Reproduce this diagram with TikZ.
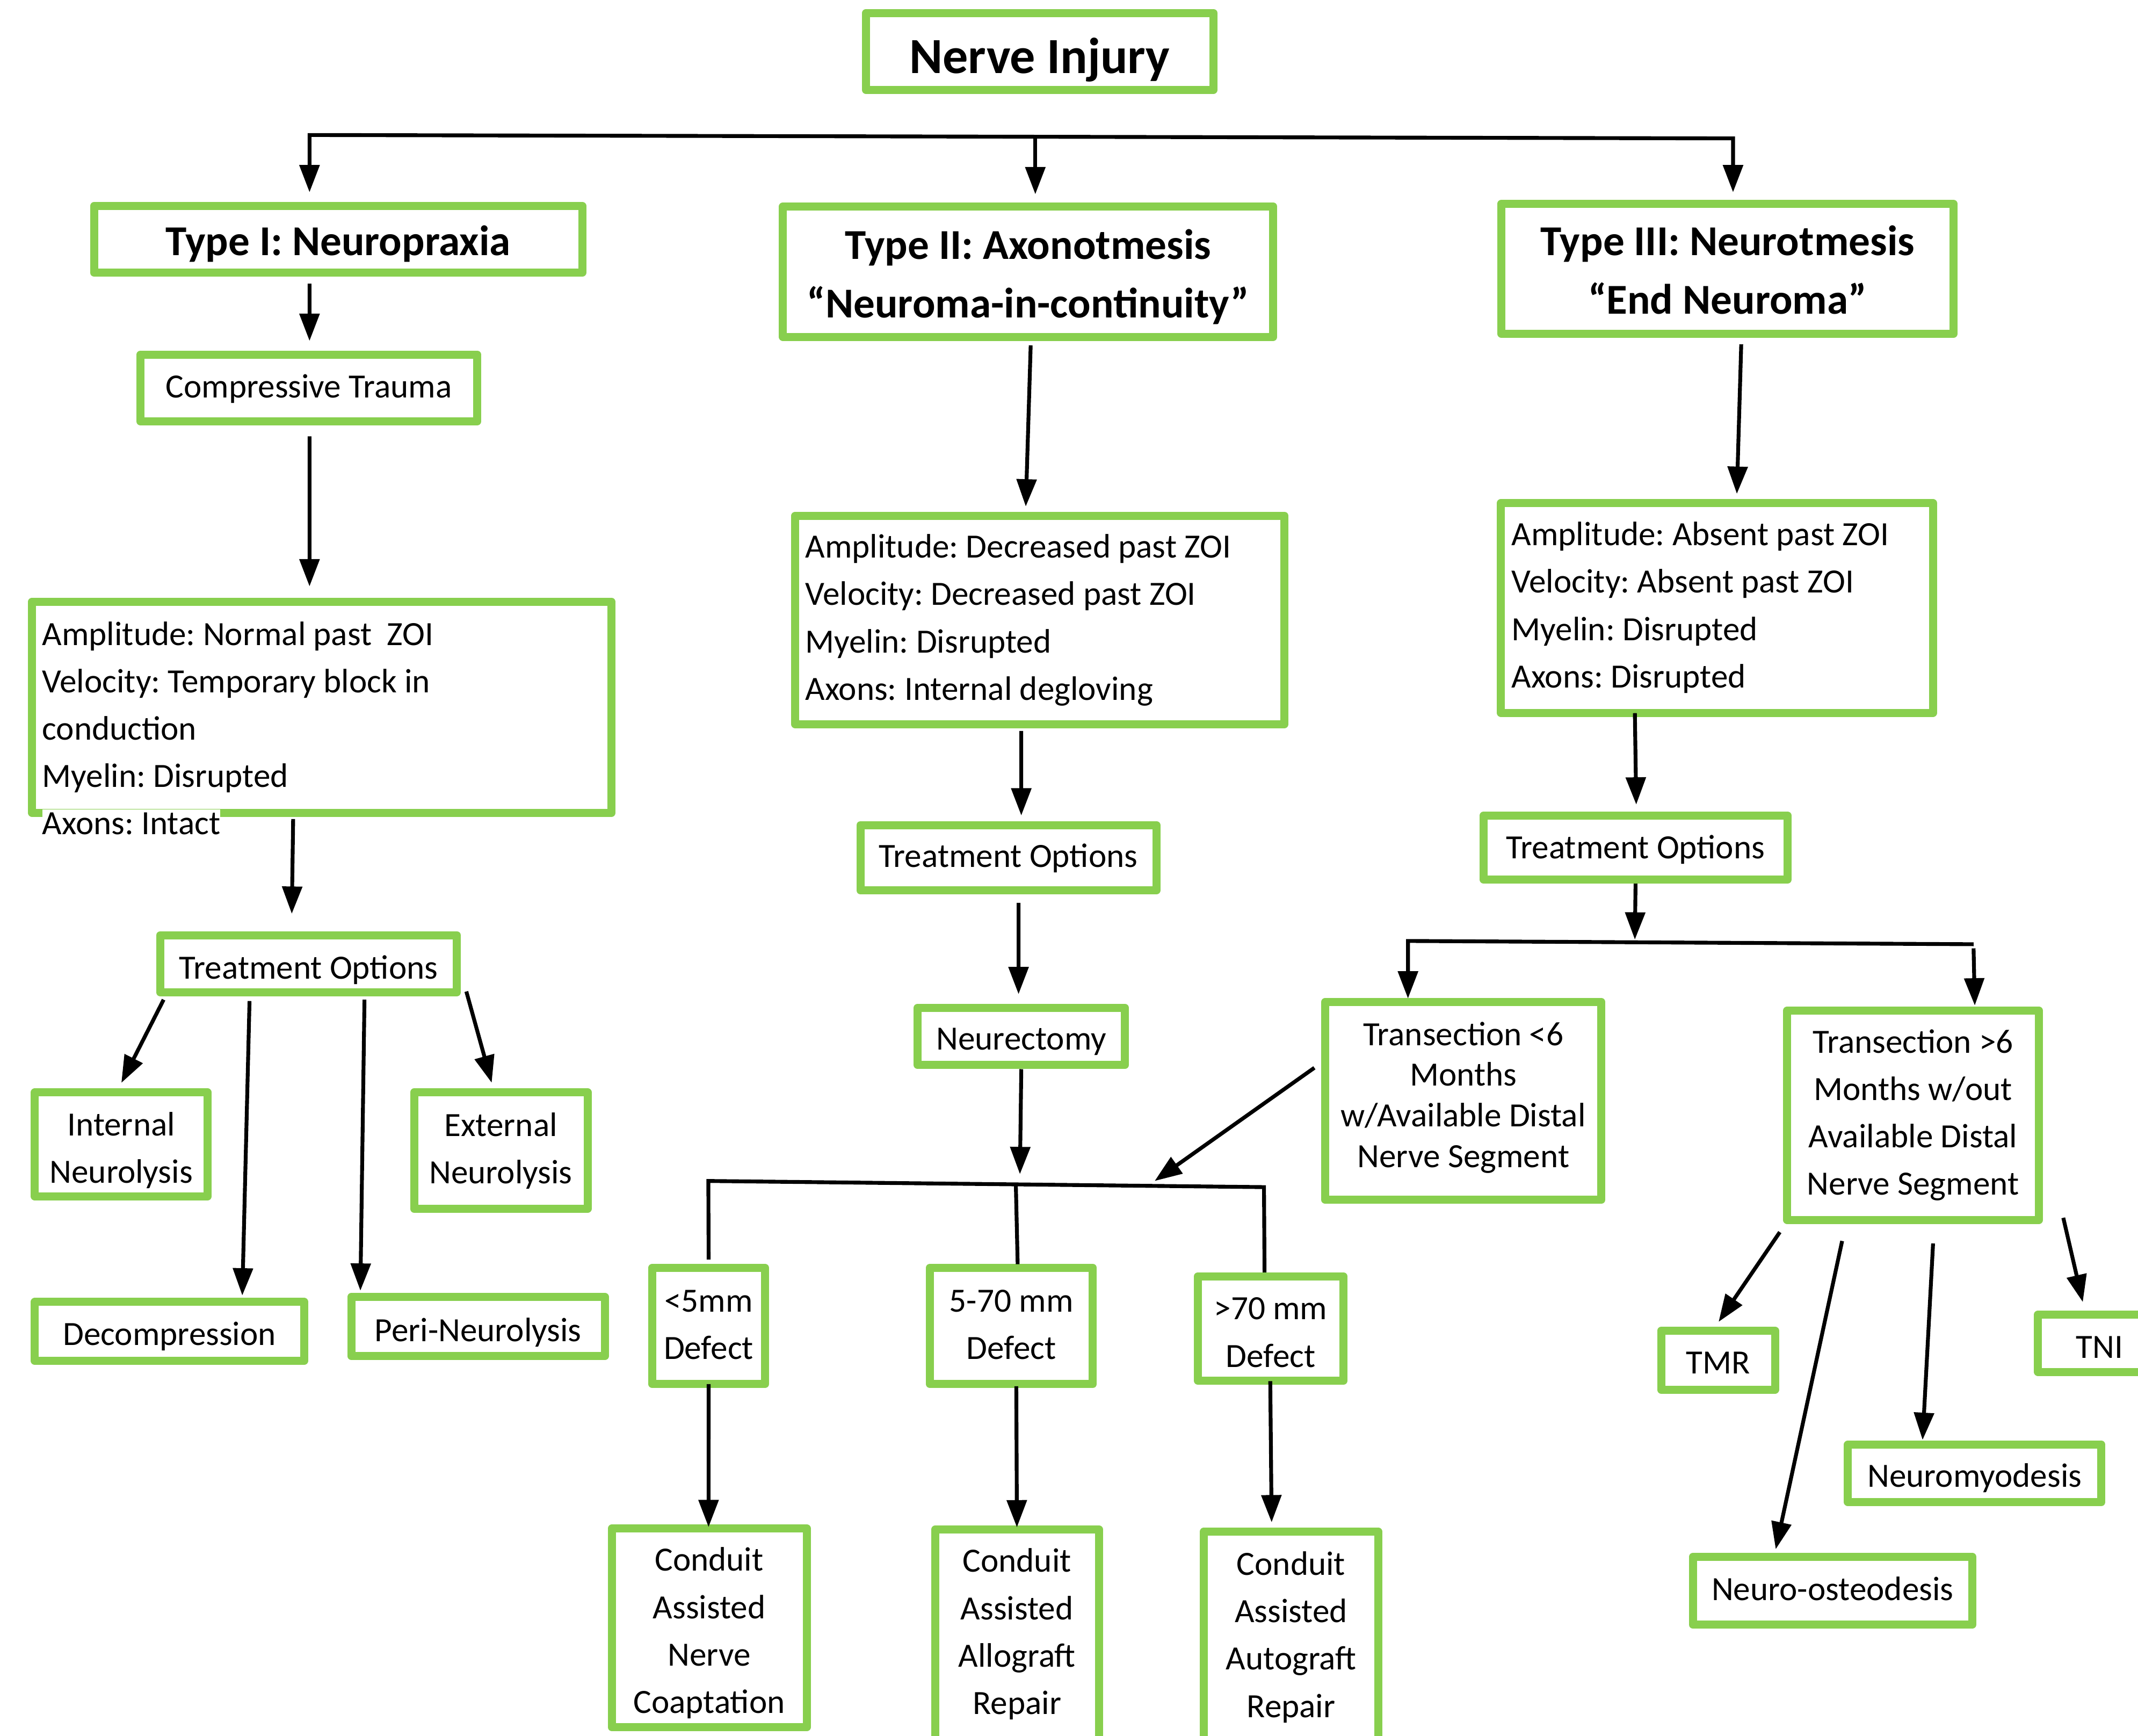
\documentclass[tikz,border=0pt]{standalone}
\usepackage{fontspec}
\setmainfont{Carlito}
\usetikzlibrary{arrows.meta,calc}
\definecolor{grn}{RGB}{136,207,78}
\frenchspacing
\newcommand{\ctab}[1]{\begin{tabular}{@{}c@{}}#1\end{tabular}}
\newcommand{\ltab}[1]{\begin{tabular}{@{}l@{}}#1\end{tabular}}
\newcommand{\dn}[2]{\raisebox{-#1}[\height][\depth]{#2}}
\tikzset{
  gbox/.style={draw=grn, line width=4.2pt, line join=round, fill=white, inner sep=0pt, outer sep=0pt,
    font={\fontsize{17.7}{24.7}\selectfont}},
  sz/.style 2 args={minimum width={#1*0.025cm}, minimum height={#2*0.025cm}},
  one/.style={text height=14.8pt, text depth=2pt},
  ttl/.style={font={\bfseries\fontsize{22.2}{30.6}\selectfont}},
  txt/.style={inner sep=0pt, outer sep=0pt, font={\fontsize{17.7}{24.7}\selectfont}},
  tip/.tip={Triangle[length=0.5cm,width=0.36cm]},
  arr/.style={line width=2pt, -tip},
  ln/.style={line width=2pt},
}
\begin{document}
\begin{tikzpicture}[x=0.025cm,y=-0.025cm]
\useasboundingbox (0,0) rectangle (1568,1273);
\clip (0,0) rectangle (1568,1273);
\fill[white] (0,0) rectangle (1568,1273);

% ---------- boxes ----------
\node[gbox, sz={254.9}{56.3}, font={\bfseries\fontsize{26.4}{32}\selectfont}, text height=21.6pt, text depth=0pt] (ni) at (762.5,37.7) {\dn{0.7pt}{Nerve Injury}};

\node[gbox, ttl, one, sz={358}{49}] (t1) at (248,175.5) {\dn{2.1pt}{Type I: Neuropraxia}};
\node[gbox, ttl, sz={359.5}{95.7}] (t2) at (754,199.2) {\dn{2.6pt}{\ctab{Type II: Axonotmesis\\“Neuroma-in-continuity”}}};
\node[gbox, ttl, sz={331.9}{95}] (t3) at (1266.9,197.1) {\dn{2.2pt}{\ctab{Type III: Neurotmesis\\“End Neuroma”}}};

\node[gbox, one, sz={247}{49}] (ct) at (226.5,284.5) {\dn{-1.4pt}{Compressive Trauma}};

\node[gbox, sz={425}{154.8}] (p1) at (236,518.6) {};
\node[gbox, sz={358.9}{152.8}] (p2) at (762.6,454.6) {};
\node[gbox, sz={316.7}{153.9}] (p3) at (1259.2,445.8) {};

\node[txt, anchor=west] (p1t) at (31,518.2) {\ltab{Amplitude: Normal past\ \ ZOI\\Velocity: Temporary block in\\conduction\\Myelin: Disrupted}};
\node[txt, anchor=base west, fill=white, text height=13.1pt, text depth=4pt] (p1a) at (31,611.8) {Axons: Intact};
\node[txt, anchor=west] (p2t) at (590.6,454.3) {\ltab{Amplitude: Decreased past ZOI\\Velocity: Decreased past ZOI\\Myelin: Disrupted\\Axons: Internal degloving}};
\node[txt, anchor=west] (p3t) at (1108.6,445.2) {\ltab{Amplitude: Absent past ZOI\\Velocity: Absent past ZOI\\Myelin: Disrupted\\Axons: Disrupted}};

\node[gbox, one, sz={217.6}{41.9}] (to1) at (226.3,706.7) {\dn{1.4pt}{Treatment Options}};
\node[gbox, one, sz={217}{48}] (to2) at (739.5,629) {\dn{-1.4pt}{Treatment Options}};
\node[gbox, one, sz={223}{47}] (to3) at (1199.5,621.5) {\dn{-0.6pt}{Treatment Options}};

\node[gbox, sz={126.6}{76.3}] (in) at (88.9,839.2) {\dn{2.8pt}{\ctab{Internal\\Neurolysis}}};
\node[gbox, sz={127.2}{85.4}] (ex) at (367.3,843.7) {\ctab{External\\Neurolysis}};
\node[gbox, one, sz={197.4}{43.3}] (de) at (124.3,976.3) {\dn{0.7pt}{Decompression}};
\node[gbox, one, sz={186}{43.3}] (pn) at (350.6,972.7) {\dn{1.4pt}{Peri-Neurolysis}};

\node[gbox, one, sz={152}{42}] (ne) at (749,760) {\dn{0.7pt}{Neurectomy}};

\node[gbox, sz={202.5}{145.2}, font={\fontsize{17.7}{21.2}\selectfont}] (tl) at (1073.2,807.3) {\dn{-1.4pt}{\ctab{Transection <6\\Months\\w/Available Distal\\Nerve Segment}}};
\node[gbox, sz={184.6}{153.6}] (tg) at (1403,817.8) {\dn{-0.4pt}{\ctab{Transection >6\\Months w/out\\Available Distal\\Nerve Segment}}};

\node[gbox, sz={82.6}{85.4}] (d1) at (519.7,972.3) {\ctab{<5mm\\Defect}};
\node[gbox, sz={119.5}{85.4}] (d2) at (741.75,972.3) {\ctab{5-70 mm\\Defect}};
\node[gbox, sz={107}{76.4}] (d3) at (931.9,974.2) {\dn{2.8pt}{\ctab{>70 mm\\Defect}}};

\node[gbox, sz={142.9}{145.8}] (c1) at (520.15,1193.7) {\dn{2.5pt}{\ctab{Conduit\\Assisted\\Nerve\\Coaptation}}};
\node[gbox, sz={120.2}{178.4}] (c2) at (745.9,1210.8) {};
\node[gbox, sz={127.7}{177}] (c3) at (946.85,1211.5) {};
\node[txt] (c2t) at (745.9,1198) {\ctab{Conduit\\Assisted\\Allograft\\Repair}};
\node[txt] (c3t) at (946.9,1200.2) {\ctab{Conduit\\Assisted\\Autograft\\Repair}};

\node[gbox, one, sz={83.5}{43.2}] (tmr) at (1260,997.4) {\dn{0.7pt}{TMR}};
\node[gbox, one, sz={186}{42}] (nm) at (1448.2,1080.4) {\dn{0.7pt}{Neuromyodesis}};
\node[gbox, one, sz={204.8}{49.9}] (no) at (1344,1166.5) {\dn{-1.4pt}{Neuro-osteodesis}};
\node[gbox, one, sz={90.3}{42}] (tni) at (1539.85,985) {\dn{1.4pt}{TNI}};

% ---------- connectors ----------
\coordinate (barL) at (227,99);
\coordinate (barR) at (1271,101.5);
\coordinate (barM) at (759.3,100.3);
\draw[ln, tip-tip] ($(t1.north)+(-21,-10)$) -- (barL) -- (barR) -- ($(t3.north)+(4.1,-8.6)$);
\draw[arr] (barM) -- ($(t2.north)+(5.3,-8.9)$);

\draw[arr] ($(t1.south)+(-21,8)$) -- ($(ct.north)+(0.5,-10)$);
\draw[arr] ($(ct.south)+(0.5,11)$) -- ($(p1.north)+(-9,-11.2)$);
\draw[arr] ($(p1.south)+(-21,4.6)$) -- ($(to1.north)+(-12.3,-15.7)$);
\draw[arr] ($(to1.south west)+(2.5,5.4)$) -- ($(in.north)+(0.1,-7)$);
\draw[arr] ($(to1.south)+(-43.3,6.4)$) -- ($(de.north)+(53.4,-4.7)$);
\draw[arr] ($(to1.south)+(41,5.4)$) -- ($(pn.north)+(-86.3,-4.6)$);
\draw[arr] ($(to1.south east)+(6.9,-0.6)$) -- ($(ex.north)+(-6.7,-7)$);

\draw[arr] ($(t2.south)+(1.9,6.2)$) -- ($(p2.north)+(-10.3,-6.8)$);
\draw[arr] ($(p2.south)+(-13.6,5)$) -- ($(to2.north)+(9.5,-7)$);
\draw[arr] ($(to2.south)+(7.5,9)$) -- ($(ne.north)+(-2,-10)$);

\coordinate (b2L) at (519.5,866);
\coordinate (b2R) at (927,870.5);
\coordinate (b2M) at (745,868.3);
\coordinate (b2N) at (748,861);
\coordinate (b2T) at (846.8,866);
\draw[arr] ($(ne.south)+(0,3)$) -- (b2N);
\draw[ln] ($(d1.north)+(0,-6)$) -- (b2L) -- (b2R) -- ($(d3.north)+(-4.5,-3)$);
\draw[ln] (b2M) -- ($(d2.north)+(4.6,-2.6)$);
\draw[arr] ($(tl.west)+(-8,-24.3)$) -- (b2T);

\draw[arr] (d1.south) -- ($(c1.north)+(-0.5,-1)$);
\draw[arr] ($(d2.south)+(3.6,1.5)$) -- ($(c2.north)+(-0.1,-1.6)$);
\draw[arr] ($(d3.south)+(-0.3,0.4)$) -- ($(c3.north)+(-14.25,-6.7)$);

\draw[arr] ($(t3.south)+(10.1,7.9)$) -- ($(p3.north)+(14.6,-6.7)$);
\draw[arr] ($(p3.south)+(-60.2,0.2)$) -- ($(to3.north)+(0.5,-8)$);

\coordinate (b3L) at (1032.6,690);
\coordinate (b3R) at (1447.4,692.4);
\coordinate (b3T) at (1199,689);
\draw[arr] ($(to3.south)+(0,3)$) -- (b3T);
\draw[ln, -tip] (b3R) -- (b3L) -- ($(tl.north)+(-40.6,-2.5)$);
\draw[arr] ($(b3R)+(0,3)$) -- ($(tg.north)+(45.3,-3.7)$);

\draw[arr] ($(tg.south west)+(-5.4,8.9)$) -- ($(tmr.north)+(0.4,-6.5)$);
\draw[arr] ($(tg.south)+(-52,15.4)$) -- ($(no.north)+(-41.7,-5.5)$);
\draw[arr] ($(tg.south)+(14.7,17.2)$) -- ($(nm.north)+(-38.2,-3.5)$);
\draw[arr] ($(tg.south east)+(17.9,-1.6)$) -- ($(tni.north west)+(32.8,-9.2)$);
\end{tikzpicture}
\end{document}
